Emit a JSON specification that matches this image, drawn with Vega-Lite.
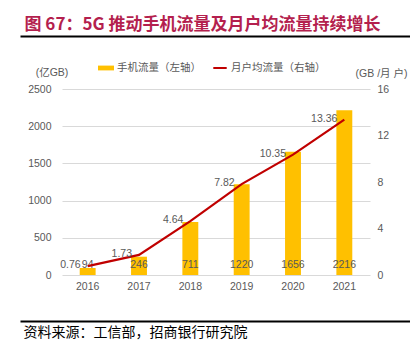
{
  "$schema": "https://vega.github.io/schema/vega-lite/v6.json",
  "autosize": {"type": "none"},
  "padding": {"left": 62, "top": 89, "right": 40, "bottom": 80},
  "width": 308,
  "height": 186,
  "background": "white",
  "config": {
    "view": {"stroke": null},
    "font": "Liberation Sans, Noto Sans CJK SC"
  },
  "data": {
    "values": [
      {"year": "2016", "traffic": 94, "arpu": 0.76},
      {"year": "2017", "traffic": 246, "arpu": 1.73},
      {"year": "2018", "traffic": 711, "arpu": 4.64},
      {"year": "2019", "traffic": 1220, "arpu": 7.82},
      {"year": "2020", "traffic": 1656, "arpu": 10.35},
      {"year": "2021", "traffic": 2216, "arpu": 13.36}
    ]
  },
  "layer": [
    {
      "encoding": {
        "x": {
          "field": "year",
          "type": "ordinal",
          "scale": {"paddingInner": 0.69, "paddingOuter": 0.345},
          "axis": {
            "orient": "bottom",
            "title": null,
            "labelAngle": 0,
            "domain": false,
            "ticks": false,
            "grid": false,
            "labelPadding": 6,
            "labelColor": "#595959",
            "labelFontSize": 10.5
          }
        }
      },
      "layer": [
        {
          "layer": [
            {
              "mark": {"type": "bar"},
              "encoding": {
                "y": {
                  "field": "traffic",
                  "type": "quantitative",
                  "scale": {"domain": [0, 2500], "nice": false},
                  "axis": {
                    "title": "(亿GB)",
                    "titleAngle": 0,
                    "titleAlign": "center",
                    "titleBaseline": "middle",
                    "titleX": -10.5,
                    "titleY": -17,
                    "titleFontSize": 10.5,
                    "titleFontWeight": "normal",
                    "titleColor": "#595959",
                    "values": [0, 500, 1000, 1500, 2000, 2500],
                    "format": "d",
                    "grid": true,
                    "gridColor": "#D9D9D9",
                    "domain": false,
                    "ticks": false,
                    "labelPadding": 11,
                    "labelColor": "#595959",
                    "labelFontSize": 10.5
                  }
                },
                "color": {
                  "datum": "手机流量（左轴）",
                  "type": "nominal",
                  "scale": {"range": ["#FFC000"]},
                  "legend": {
                    "orient": "none",
                    "legendX": 36,
                    "legendY": -29,
                    "title": null,
                    "padding": 0,
                    "symbolType": "M-1,-0.3H1V0.3H-1Z",
                    "symbolSize": 256,
                    "symbolStrokeWidth": 0,
                    "labelFontSize": 10.5,
                    "labelColor": "#595959",
                    "labelOffset": 3
                  }
                }
              }
            },
            {
              "mark": {"type": "text", "baseline": "middle", "dy": -10, "color": "#595959", "fontSize": 10.5},
              "encoding": {
                "y": {
                  "datum": 0,
                  "type": "quantitative",
                  "scale": {"domain": [0, 2500], "nice": false},
                  "axis": {
                    "title": "(亿GB)",
                    "titleAngle": 0,
                    "titleAlign": "center",
                    "titleBaseline": "middle",
                    "titleX": -10.5,
                    "titleY": -17,
                    "titleFontSize": 10.5,
                    "titleFontWeight": "normal",
                    "titleColor": "#595959",
                    "values": [0, 500, 1000, 1500, 2000, 2500],
                    "format": "d",
                    "grid": true,
                    "gridColor": "#D9D9D9",
                    "domain": false,
                    "ticks": false,
                    "labelPadding": 11,
                    "labelColor": "#595959",
                    "labelFontSize": 10.5
                  }
                },
                "text": {"field": "traffic", "type": "quantitative"}
              }
            }
          ]
        },
        {
          "layer": [
            {
              "mark": {"type": "line", "strokeWidth": 2.2},
              "encoding": {
                "y": {
                  "field": "arpu",
                  "type": "quantitative",
                  "scale": {"domain": [0, 16], "nice": false},
                  "axis": {
                    "orient": "right",
                    "title": "(GB /月 户)",
                    "titleAngle": 0,
                    "titleAlign": "center",
                    "titleBaseline": "middle",
                    "titleX": 11,
                    "titleY": -16,
                    "titleFontSize": 10.5,
                    "titleFontWeight": "normal",
                    "titleColor": "#595959",
                    "values": [0, 2, 4, 6, 8, 10, 12, 14, 16],
                    "grid": false,
                    "domain": false,
                    "ticks": false,
                    "labelPadding": 7,
                    "labelColor": "#595959",
                    "labelFontSize": 10.5
                  }
                },
                "stroke": {
                  "datum": "月户均流量（右轴）",
                  "type": "nominal",
                  "scale": {"range": ["#C00000"]},
                  "legend": {
                    "orient": "none",
                    "legendX": 150,
                    "legendY": -29,
                    "title": null,
                    "padding": 0,
                    "symbolType": "stroke",
                    "symbolSize": 180,
                    "symbolStrokeWidth": 2,
                    "labelFontSize": 10.5,
                    "labelColor": "#595959",
                    "labelOffset": 3
                  }
                }
              }
            },
            {
              "mark": {"type": "text", "align": "right", "baseline": "middle", "dx": -7, "dy": -1, "color": "#595959", "fontSize": 10.5},
              "encoding": {
                "y": {"field": "arpu", "type": "quantitative"},
                "text": {"field": "arpu", "type": "quantitative"}
              }
            }
          ]
        }
      ],
      "resolve": {"scale": {"y": "independent"}}
    },
    {
      "mark": {"type": "text"},
      "encoding": {
        "x": {
          "datum": 0,
          "type": "quantitative",
          "scale": {"domain": [0, 1], "range": [-42, 348]},
          "axis": {
            "orient": "top",
            "offset": 53,
            "domain": true,
            "domainColor": "#000000",
            "domainWidth": 2,
            "labels": false,
            "ticks": false,
            "grid": false,
            "title": "图 67：5G 推动手机流量及月户均流量持续增长",
            "titleFont": "Noto Sans CJK SC",
            "titleFontSize": 17,
            "titleFontWeight": "bold",
            "titleColor": "#B41F4E",
            "titleAlign": "left",
            "titleBaseline": "middle",
            "titleX": -38,
            "titleY": -12
          }
        },
        "text": {"value": ""}
      }
    },
    {
      "mark": {"type": "text"},
      "encoding": {
        "x": {
          "datum": 0,
          "type": "quantitative",
          "scale": {"domain": [0, 1], "range": [-42, 348]},
          "axis": {
            "orient": "bottom",
            "offset": 46,
            "domain": true,
            "domainColor": "#000000",
            "domainWidth": 2,
            "labels": false,
            "ticks": false,
            "grid": false,
            "title": "资料来源：工信部，招商银行研究院",
            "titleFont": "Noto Sans CJK SC",
            "titleFontSize": 14,
            "titleFontWeight": "normal",
            "titleColor": "#000000",
            "titleAlign": "left",
            "titleBaseline": "middle",
            "titleX": -39,
            "titleY": 11
          }
        },
        "text": {"value": ""}
      }
    }
  ],
  "resolve": {"scale": {"x": "independent"}}
}
